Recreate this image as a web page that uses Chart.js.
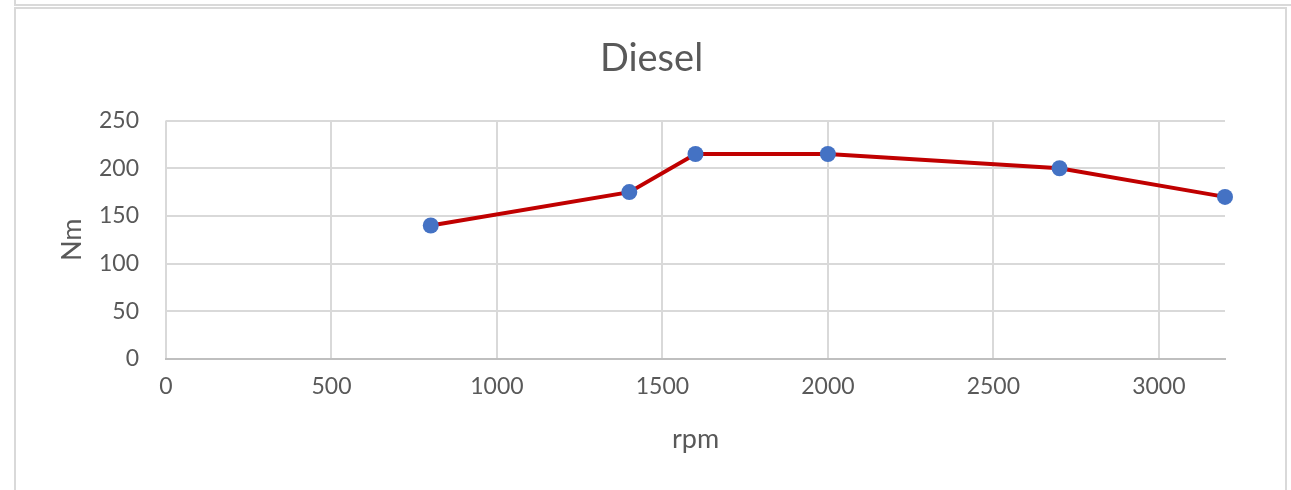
<!DOCTYPE html>
<html>
<head>
<meta charset="utf-8">
<script src="https://cdn.jsdelivr.net/npm/chart.js@4"></script>
<style>
  html, body { margin: 0; padding: 0; background: #fff; }
  body { width: 1291px; height: 490px; position: relative; overflow: hidden; }
  .frame-prev { position: absolute; left: 14px; top: -10px; width: 1300px; height: 16px;
    border: 2px solid #d9d9d9; box-sizing: border-box; }
  .frame { position: absolute; left: 14px; top: 7px; width: 1273px; height: 500px;
    border: 2px solid #d9d9d9; box-sizing: border-box; }
  #wrap { position: absolute; left: 0; top: 0; width: 1291px; height: 490px; }
</style>
</head>
<body>
<div class="frame-prev"></div>
<div class="frame"></div>
<div id="wrap"><canvas id="torque-chart"></canvas></div>
<script>
const rpm = [800, 1400, 1600, 2000, 2700, 3200];
const torque = [140, 175, 215, 215, 200, 170];
const xTicks = [0, 500, 1000, 1500, 2000, 2500, 3000];
const yTicks = [0, 50, 100, 150, 200, 250];

const textColor = '#595959';
const gridColor = '#d9d9d9';
const fontFamily = 'Lato, "Open Sans", sans-serif';

const points = rpm.map((r, i) => ({ x: r, y: torque[i] }));

const ctx = document.getElementById('torque-chart').getContext('2d');
new Chart(ctx, {
    type: 'line',
    data: {
        datasets: [{
            label: 'Diesel',
            data: points,
            borderColor: '#c00000',
            borderWidth: 4,
            backgroundColor: '#4472c4',
            pointBackgroundColor: '#4472c4',
            pointBorderWidth: 0,
            pointRadius: 8,
            tension: 0,
            clip: false
        }]
    },
    options: {
        responsive: true,
        maintainAspectRatio: false,
        animation: false,
        layout: {
            padding: { left: 52, right: 40, top: 0, bottom: 31 }
        },
        plugins: {
            legend: { display: false },
            tooltip: { enabled: false },
            title: {
                display: true,
                text: 'Diesel',
                color: textColor,
                font: { family: fontFamily, size: 38, weight: 'normal' },
                padding: { top: 36, bottom: 39 }
            }
        },
        scales: {
            x: {
                type: 'linear',
                min: 0,
                max: 3200,
                afterBuildTicks: (scale) => {
                    scale.ticks = xTicks.map(v => ({ value: v }));
                },
                afterFit: (scale) => { scale.height = 100; },
                grid: { color: gridColor, lineWidth: 2, drawTicks: false },
                border: { color: '#bfbfbf', width: 2 },
                ticks: {
                    color: textColor,
                    font: { family: fontFamily, size: 23 },
                    padding: 14,
                    maxRotation: 0,
                    callback: (v) => String(v)
                },
                title: {
                    display: true,
                    text: 'rpm',
                    color: textColor,
                    font: { family: fontFamily, size: 27 }
                }
            },
            y: {
                min: 0,
                max: 250,
                afterBuildTicks: (scale) => {
                    scale.ticks = yTicks.map(v => ({ value: v }));
                },
                afterFit: (scale) => { scale.width = 114; },
                grid: { color: gridColor, lineWidth: 2, drawTicks: false },
                border: { display: false },
                ticks: {
                    color: textColor,
                    font: { family: fontFamily, size: 23 },
                    padding: 27,
                    callback: (v) => String(v)
                },
                title: {
                    display: true,
                    text: 'Nm',
                    color: textColor,
                    font: { family: fontFamily, size: 27 }
                }
            },
            // empty right-hand spacer so the title centres like the original
            spacer: {
                position: 'right',
                afterFit: (scale) => { scale.width = 26; },
                grid: { display: false },
                border: { display: false },
                ticks: { display: false }
            }
        }
    }
});
</script>
</body>
</html>
